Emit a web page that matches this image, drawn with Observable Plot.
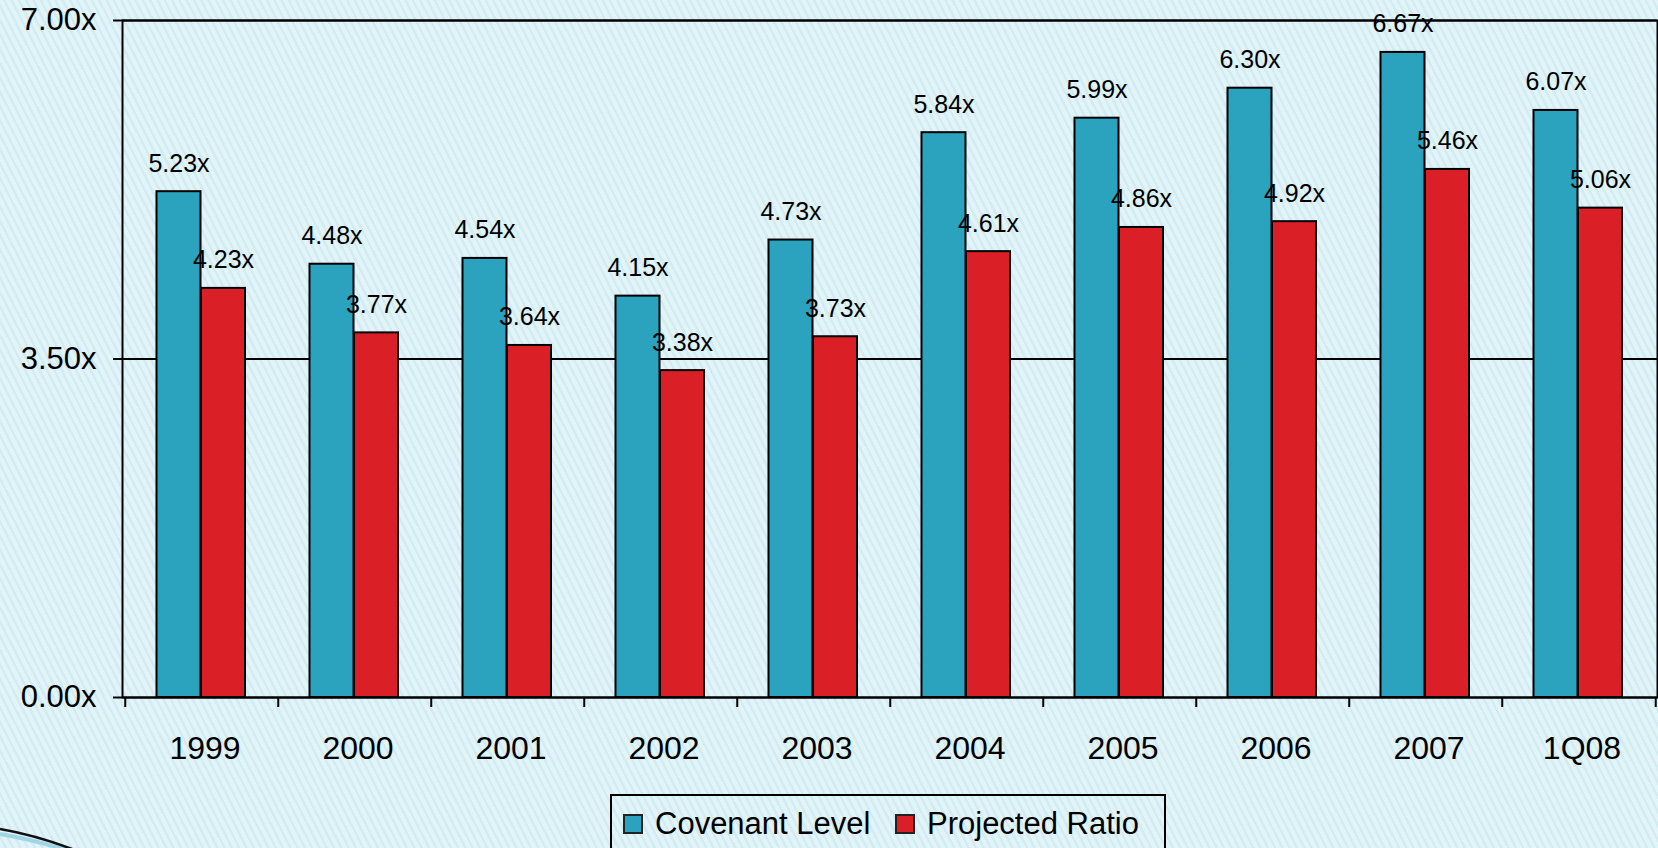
<!DOCTYPE html>
<html>
<head>
<meta charset="utf-8">
<script src="https://cdn.jsdelivr.net/npm/d3@7"></script>
<script src="https://cdn.jsdelivr.net/npm/@observablehq/plot@0.6"></script>
<style>
  html, body { margin: 0; padding: 0; }
  body {
    width: 1658px; height: 848px; overflow: hidden; position: relative;
    font-family: "Liberation Sans", Arial, sans-serif;
    background-color: #def3f8;
    background-image: repeating-linear-gradient(63deg, #e1f4f9 0px, #e1f4f9 4px, #d3ebf1 4px, #d3ebf1 6.5px);
  }
  #chart { position: absolute; left: 0; top: 0; }
  #legend {
    position: absolute; left: 610px; top: 794px; width: 556px; height: 70px;
    border: 2px solid #000; box-sizing: border-box;
    font-size: 31px; color: #000; white-space: nowrap;
  }
  #legend .item { position: absolute; top: 10px; display: flex; align-items: center; white-space: nowrap; }
  #legend .sw { width: 16px; height: 16px; border: 2px solid #222; margin-right: 12px; }
  #deco { position: absolute; left: 0; top: 800px; }
</style>
</head>
<body>
<div id="chart"></div>
<div id="legend"></div>
<svg id="deco" width="120" height="48">
  <path d="M0,34 Q35,40 80,54" fill="none" stroke="#9fd6e6" stroke-width="4"/>
  <path d="M0,29 Q35,35 72,49" fill="none" stroke="#111" stroke-width="2.5"/>
</svg>
<script>
const categories = ["1999", "2000", "2001", "2002", "2003", "2004", "2005", "2006", "2007", "1Q08"];
const covenantLevel = [5.23, 4.48, 4.54, 4.15, 4.73, 5.84, 5.99, 6.30, 6.67, 6.07];
const projectedRatio = [4.23, 3.77, 3.64, 3.38, 3.73, 4.61, 4.86, 4.92, 5.46, 5.06];
const seriesNames = ["Covenant Level", "Projected Ratio"];
const seriesColors = ["#2ba3bf", "#db1f27"];
const yTicks = [0, 3.5, 7];

const fmt = d => d.toFixed(2) + "x";
const covRows = categories.map((c, i) => ({cat: c, value: covenantLevel[i]}));
const projRows = categories.map((c, i) => ({cat: c, value: projectedRatio[i]}));

const W = 1658, H = 770;
const mL = 122, mR = 1, mT = 20, mB = 73;
const bw = (W - mL - mR) / categories.length;

const chart = Plot.plot({
  width: W, height: H,
  marginLeft: mL, marginRight: mR, marginTop: mT, marginBottom: mB,
  style: {background: "transparent", color: "#000", fontFamily: "'Liberation Sans', Arial, sans-serif"},
  x: {domain: categories, padding: 0, axis: null, label: null},
  y: {domain: [0, 7], axis: null, label: null},
  marks: [
    Plot.ruleY(yTicks, {stroke: "#000", strokeWidth: 2}),
    Plot.barY(covRows, {x: "cat", y: "value", fill: seriesColors[0], stroke: "#000", strokeWidth: 2, insetLeft: 31.5, insetRight: 77.5}),
    Plot.barY(projRows, {x: "cat", y: "value", fill: seriesColors[1], stroke: "#000", strokeWidth: 2, insetLeft: 76, insetRight: 33}),
    Plot.frame({stroke: "#000", strokeWidth: 2}),
    Plot.text(covRows, {x: "cat", y: "value", text: d => fmt(d.value), dx: -23, dy: -28, fontSize: 25, fill: "#000"}),
    Plot.text(projRows, {x: "cat", y: "value", text: d => fmt(d.value), dx: 21.5, dy: -28, fontSize: 25, fill: "#000"}),
    Plot.axisY({ticks: yTicks, tickSize: 9, tickPadding: 17, tickFormat: fmt, fontSize: 31, strokeWidth: 2, label: null}),
    Plot.axisX({tickSize: 10, tickFormat: () => "", dx: -bw / 2, strokeWidth: 2, label: null}),
    Plot.axisX({ticks: [categories[categories.length - 1]], tickSize: 10, tickFormat: () => "", dx: bw / 2, strokeWidth: 2, label: null}),
    Plot.axisX({tickSize: 0, tickPadding: 39, fontSize: 32, dx: 3, label: null})
  ]
});
document.getElementById("chart").appendChild(chart);

const legend = document.getElementById("legend");
const lefts = [11, 283];
seriesNames.forEach((name, i) => {
  const item = document.createElement("div");
  item.className = "item";
  item.style.left = lefts[i] + "px";
  const sw = document.createElement("div");
  sw.className = "sw";
  sw.style.background = seriesColors[i];
  const label = document.createElement("span");
  label.textContent = name;
  item.appendChild(sw);
  item.appendChild(label);
  legend.appendChild(item);
});
</script>
</body>
</html>
